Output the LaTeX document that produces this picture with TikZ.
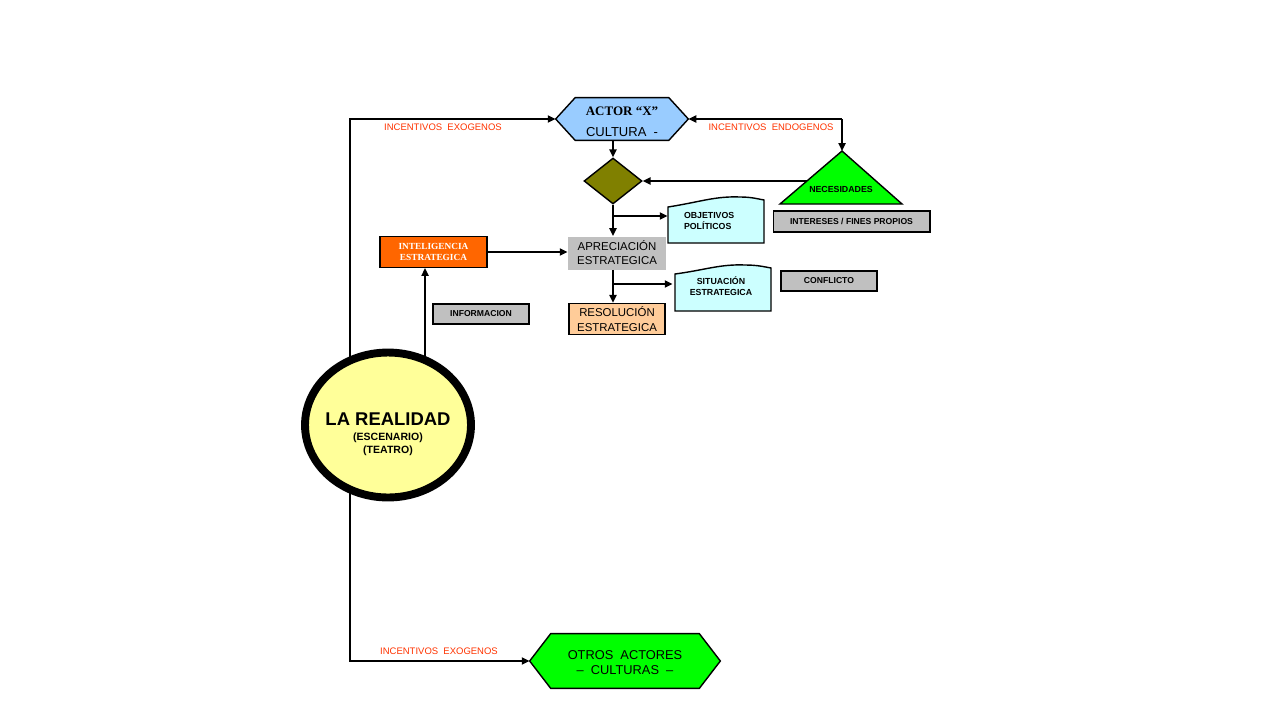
\documentclass[tikz,border=0pt]{standalone}
\usepackage{fontspec}
\setmainfont{Liberation Sans}
\newfontfamily\romana{Liberation Serif}
\usetikzlibrary{shapes.geometric,arrows.meta,calc}
\pgfdeclarelayer{fondo}
\pgfsetlayers{fondo,main}
\newcommand{\tam}[2]{\fontsize{#1}{#2}\selectfont}
% hexagono alrededor de un nodo: nombre, chaflan, color
\newcommand{\dibhexa}[3]{%
  \draw[line width=0.8pt,fill=#3] (#1.west) -- ($(#1.north west)+(#2,0)$)
    -- ($(#1.north east)+(-#2,0)$) -- (#1.east) -- ($(#1.south east)+(-#2,0)$)
    -- ($(#1.south west)+(#2,0)$) -- cycle;}

\definecolor{azulactor}{HTML}{99CCFF}
\definecolor{verdeneon}{HTML}{00FF00}
\definecolor{oliva}{HTML}{808000}
\definecolor{celeste}{HTML}{CCFFFF}
\definecolor{grisbox}{HTML}{C0C0C0}
\definecolor{naranja}{HTML}{FF6600}
\definecolor{durazno}{HTML}{FFCC99}
\definecolor{amarillo}{HTML}{FFFF99}
\definecolor{rojo}{HTML}{FF3300}

\tikzset{
  flecha/.style={line width=1.1pt,-{Triangle[length=4.5pt,width=4pt]}},
  gris/.style={draw,line width=0.6pt,fill=grisbox,inner sep=0pt,font=\bfseries\tam{4.9}{6}},
  rotulo/.style={text=rojo,font=\tam{5.4}{6}},
  hexa/.style={inner sep=0pt},
  caja/.style={draw,line width=0.8pt,inner sep=0pt,align=center},
  ola/.style={draw,line width=0.8pt,fill=celeste},
}

\begin{document}
\begin{tikzpicture}[x=0.02cm,y=-0.02cm]
\useasboundingbox (0,0) rectangle (1280,720);

% actores
\node[hexa,minimum width=2.64cm,minimum height=0.84cm] (actor) at (622,119) {};
\node[align=center,inner sep=0pt] (actorTexto) at (622,122)
  {{\romana\bfseries\tam{7.4}{11}ACTOR “X”}\\{\tam{7.4}{8}CULTURA\ \ -}};
\node[hexa,minimum width=3.8cm,minimum height=1.08cm] (otros) at (625,661) {};
\node[align=center,inner sep=0pt,font=\tam{7.3}{8.5}] (otrosTexto) at (625,663)
  {OTROS\ \ ACTORES\\--\ \ CULTURAS\ \ --};

% necesidades
\coordinate (necTop) at (842,151);
\coordinate (necIzq) at (807,181);
\draw[line width=0.8pt,fill=verdeneon] (necTop) -- (902,204) -- (780,204) -- cycle;
\node[font=\bfseries\tam{5}{6}] (necesidades) at (841,189) {NECESIDADES};
\node[diamond,draw,line width=0.8pt,fill=oliva,inner sep=0pt,
      minimum width=1.16cm,minimum height=0.92cm] (rombo) at (613,181) {};

% cajas onduladas
\draw[ola] (668,243) -- (668,207) .. controls (700,202) and (715,196) .. (740,197)
  .. controls (752,197) and (758,199) .. (764,200) -- (764,243) -- cycle;
\draw[ola] (675,311) -- (675,274) .. controls (705,270) and (720,264) .. (745,265)
  .. controls (758,265) and (765,267) .. (771,268) -- (771,311) -- cycle;
\node[minimum width=1.92cm,minimum height=0.7cm,inner xsep=0.32cm,
      text width=1.28cm,align=left,font=\bfseries\tam{5}{6.2}] (objetivos) at (716,221)
  {OBJETIVOS\\POLÍTICOS};
\node[minimum width=1.92cm,minimum height=0.7cm,align=center,
      font=\bfseries\tam{5}{6.2}] (situacion) at (721,286) {SITUACIÓN\\ESTRATEGICA};

% cajas
\node[gris,minimum width=3.14cm,minimum height=0.42cm] (intereses) at (851.5,221.5)
  {INTERESES / FINES PROPIOS};
\node[gris,minimum width=1.92cm,minimum height=0.4cm] (conflicto) at (829,281) {CONFLICTO};
\node[gris,minimum width=1.92cm,minimum height=0.4cm] (informacion) at (481,314) {INFORMACION};
\node[fill=grisbox,inner sep=0pt,align=center,minimum width=1.96cm,minimum height=0.66cm,
      font=\tam{6.5}{7.9}] (apreciacion) at (617,253) {APRECIACIÓN\\ESTRATEGICA};
\node[caja,fill=durazno,minimum width=1.92cm,minimum height=0.62cm,
      font=\tam{6.5}{8.5}] (resolucion) at (617,319) {RESOLUCIÓN\\ESTRATEGICA};
\node[caja,line width=1.1pt,fill=naranja,text=white,minimum width=2.14cm,minimum height=0.62cm,
      font=\romana\bfseries\tam{5.3}{6.2}] (inteligencia) at (433.5,252)
  {INTELIGENCIA\\ESTRATEGICA};

% la realidad
\node[ellipse,draw,line width=4.5pt,fill=amarillo,inner sep=0pt,
      minimum width=3.32cm,minimum height=2.9cm] (realidad) at (388,425) {};
\node[align=center,inner sep=0pt,font=\bfseries\tam{6}{7.2}] (realidadTexto) at (388,434)
  {{\tam{10.5}{12}LA REALIDAD}\\[1.5pt](ESCENARIO)\\(TEATRO)};

% rotulos
\node[rotulo] (exoSup) at (443,127) {INCENTIVOS\ \ EXOGENOS};
\node[rotulo] (endo) at (771,127) {INCENTIVOS\ \ ENDOGENOS};
\node[rotulo] (exoInf) at (439,651) {INCENTIVOS\ \ EXOGENOS};

% conectores
\coordinate (esqSup) at (350,119);
\coordinate (esqInf) at (350,661);
\coordinate (esqDer) at (842,119);
\coordinate (ramalA) at (613,216);
\coordinate (ramalB) at (613,284);
\coordinate (info) at (425,268);
\begin{pgfonlayer}{fondo}
\draw[flecha] (esqSup |- realidad) -- (esqSup) -- (actor.west);
\draw[flecha] (esqSup |- realidad) -- (esqInf) -- (otros.west);
\draw[flecha] (info |- realidad) -- (info);
\dibhexa{actor}{19.5}{azulactor}
\dibhexa{otros}{21}{verdeneon}
\end{pgfonlayer}
\draw[flecha] (esqDer) -- (actor.east);
\draw[flecha] (esqDer) -- (necTop);
\draw[flecha] (necIzq) -- (rombo.east);
\draw[flecha] (rombo.north |- actor.south) -- (rombo.north);
\draw[flecha] (rombo.south) -- (rombo.south |- apreciacion.north);
\draw[flecha] (ramalA) -- (ramalA -| objetivos.west);
\draw[flecha] (inteligencia.east) -- (inteligencia.east -| apreciacion.west);
\draw[flecha] (rombo |- apreciacion.south) -- (rombo |- resolucion.north);
\draw[flecha] (ramalB) -- (ramalB -| situacion.west);
\end{tikzpicture}
\end{document}
